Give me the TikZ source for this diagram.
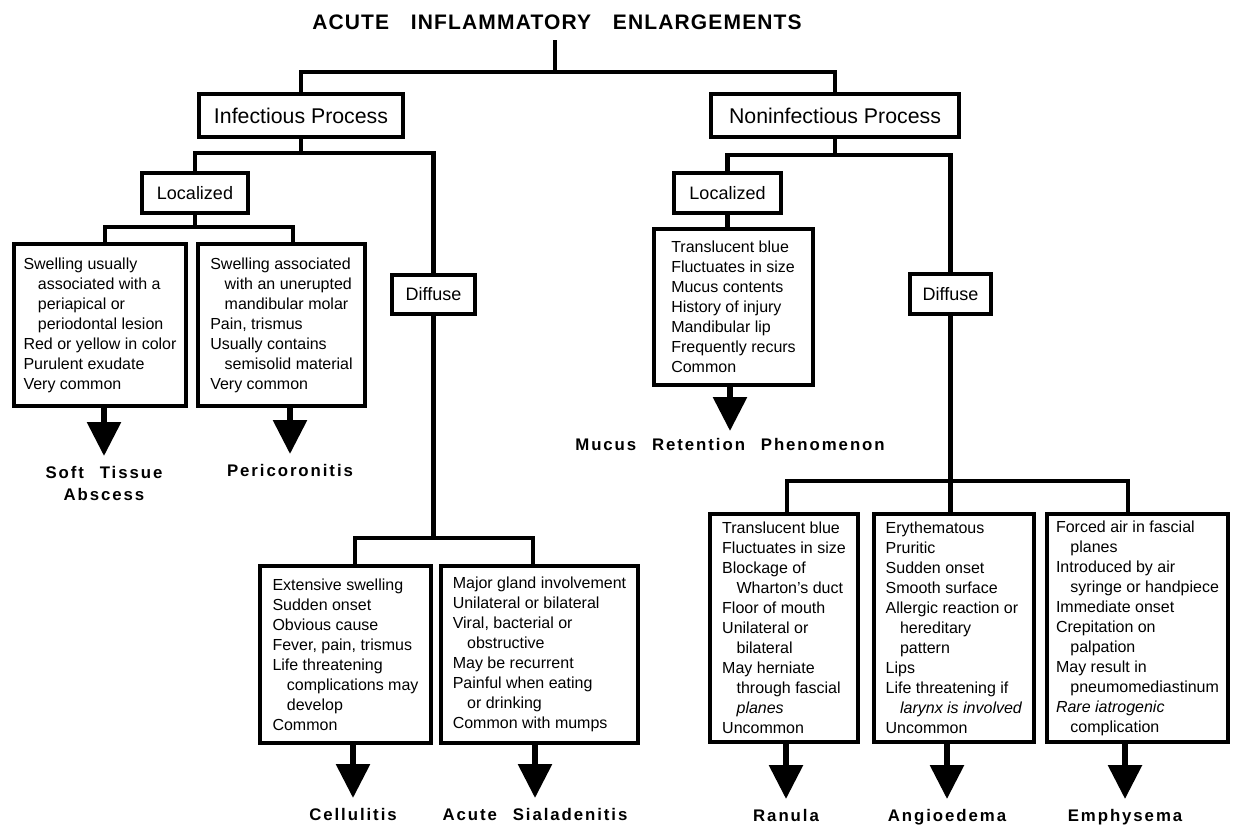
\documentclass[tikz,border=0pt]{standalone}
\usepackage{fontspec}
\setmainfont{Liberation Sans}
\newfontfamily\headfont[LetterSpace=5.5]{Liberation Sans}
\newfontfamily\leaffont[LetterSpace=11.5]{Liberation Sans}
\usetikzlibrary{arrows.meta}
\newcommand\ind{\hspace*{0.9em}}
\newcommand\wgap{\hspace{0.7em} }
\newcommand\wg{\hspace{0.55em} }
\tikzset{
  conn/.style={line width=4.5pt},
  infobox/.style={draw, line width=4pt, align=left, inner sep=0pt, anchor=north,
    font=\fontsize{16}{20}\selectfont},
  procbox/.style={draw, line width=4pt, inner sep=0pt, anchor=north, minimum height=43pt,
    font=\fontsize{21.3}{25}\selectfont},
  subbox/.style={draw, line width=4pt, inner sep=0pt, anchor=north, minimum height=40pt,
    font=\fontsize{18}{22}\selectfont},
  leaf/.style={inner sep=0pt, anchor=north, align=center,
    font=\leaffont\bfseries\fontsize{16.8}{22}\selectfont},
  result/.style={line width=6pt, -{Triangle[width=33pt,length=34pt]}, shorten >=10pt},
}
\begin{document}
\begin{tikzpicture}[x=1pt,y=-1pt]
    \useasboundingbox (0,0) rectangle (1233,828);
    % heading and the two processes
    \node (title) [inner sep=0pt, font=\headfont\bfseries\fontsize{21}{25}\selectfont] at (557,22.5)
      {ACUTE\wgap INFLAMMATORY\wgap ENLARGEMENTS};
    \node[procbox, minimum width=204pt] (inf) at (301,92) {Infectious Process};
    \node[procbox, minimum width=248pt] (noninf) at (835,92) {Noninfectious Process};
    \coordinate (topbus) at (555,72);
    \draw[conn, shorten <=10pt] (title.south -| topbus) -- (topbus);
    \draw[conn] (inf.north) |- (topbus) -| (noninf.north);
    % infectious side
    \node[subbox, minimum width=106pt] (locL) at (195,171) {Localized};
    \node[subbox, minimum width=83pt, minimum height=39pt] (difL) at (433.5,273) {Diffuse};
    \coordinate (infbus) at (301,153);
    \draw[conn] (inf.south) -- (infbus);
    \draw[conn] (locL.north) |- (infbus) -| (difL.north);
    \node[infobox, minimum width=172pt, minimum height=162pt] (soft) at (100,242)
      {Swelling usually\\ \ind associated with a\\ \ind periapical or\\ \ind periodontal lesion\\
       Red or yellow in color\\ Purulent exudate\\ Very common};
    \node[infobox, minimum width=167pt, minimum height=162pt] (peri) at (281.5,242)
      {Swelling associated\\ \ind with an unerupted\\ \ind mandibular molar\\ Pain, trismus\\
       Usually contains\\ \ind semisolid material\\ Very common};
    \coordinate (locLbus) at (195,227);
    \draw[conn] (locL.south) -- (locLbus);
    \draw[conn] ([xshift=5pt]soft.north) |- (locLbus) -| ([xshift=11.5pt]peri.north);
    \node[infobox, minimum width=171pt, minimum height=177pt] (cell) at (345.5,564)
      {Extensive swelling\\ Sudden onset\\ Obvious cause\\ Fever, pain, trismus\\
       Life threatening\\ \ind complications may\\ \ind develop\\ Common};
    \node[infobox, minimum width=197pt, minimum height=177pt] (sial) at (539.5,564)
      {Major gland involvement\\ Unilateral or bilateral\\ Viral, bacterial or\\ \ind obstructive\\
       May be recurrent\\ Painful when eating\\ \ind or drinking\\ Common with mumps};
    \coordinate (difLbus) at (433.5,538);
    \draw[conn] (difL.south) -- (difLbus);
    \draw[conn] ([xshift=9.5pt]cell.north) |- (difLbus) -| ([xshift=-6.5pt]sial.north);
    % noninfectious side
    \node[subbox, minimum width=107pt] (locR) at (727.5,171) {Localized};
    \node[subbox, minimum width=81pt, minimum height=40pt] (difR) at (950.5,272) {Diffuse};
    \coordinate (noninfbus) at (835,155);
    \draw[conn] (noninf.south) -- (noninfbus);
    \draw[conn] (locR.north) |- (noninfbus) -| (difR.north);
    \node[infobox, minimum width=159pt, minimum height=156pt] (mucus) at (733.5,227)
      {Translucent blue\\ Fluctuates in size\\ Mucus contents\\ History of injury\\
       Mandibular lip\\ Frequently recurs\\ Common};
    \draw[conn] (locR.south) -- (locR.south |- mucus.north);
    \node[infobox, minimum width=148pt, minimum height=228pt] (ranula) at (784,512)
      {Translucent blue\\ Fluctuates in size\\ Blockage of\\ \ind Wharton's duct\\ Floor of mouth\\
       Unilateral or\\ \ind bilateral\\ May herniate\\ \ind through fascial\\ \ind\textit{planes}\\ Uncommon};
    \node[infobox, minimum width=160pt, minimum height=228pt] (angio) at (954,512)
      {Erythematous\\ Pruritic\\ Sudden onset\\ Smooth surface\\ Allergic reaction or\\
       \ind hereditary\\ \ind pattern\\ Lips\\ Life threatening if\\ \ind\textit{larynx is involved}\\ Uncommon};
    \node[infobox, minimum width=181pt, minimum height=228pt] (emph) at (1137.5,512)
      {Forced air in fascial\\ \ind planes\\ Introduced by air\\ \ind syringe or handpiece\\
       Immediate onset\\ Crepitation on\\ \ind palpation\\ May result in\\ \ind pneumomediastinum\\
       \textit{Rare iatrogenic}\\ \ind complication};
    \coordinate (difRbus) at (950.5,481);
    \draw[conn] (difR.south) -- (difRbus);
    \draw[conn] ([xshift=3pt]ranula.north) |- (difRbus) -| ([xshift=-9.5pt]emph.north);
    \draw[conn] (difRbus) -- ([xshift=-3.5pt]angio.north);
    % outcomes
    \node[leaf] (softlab) at (104,466) {Soft\wg Tissue\\Abscess};
    \node[leaf] (perilab) at (290,464) {Pericoronitis};
    \node[leaf] (mucuslab) at (730,438) {Mucus\wg Retention\wg Phenomenon};
    \node[leaf] (celllab) at (353,808) {Cellulitis};
    \node[leaf] (siallab) at (535,808) {Acute\wg Sialadenitis};
    \node[leaf] (ranulalab) at (786,809) {Ranula};
    \node[leaf] (angiolab) at (947,809) {Angioedema};
    \node[leaf] (emphlab) at (1125,809) {Emphysema};
    \draw[result] (soft.south -| softlab.north) -- (softlab.north);
    \draw[result] (peri.south -| perilab.north) -- (perilab.north);
    \draw[result, shorten >=7pt] (mucus.south -| mucuslab.north) -- (mucuslab.north);
    \draw[result] (cell.south -| celllab.north) -- (celllab.north);
    \draw[result] (sial.south -| siallab.north) -- (siallab.north);
    \draw[result] (ranula.south -| ranulalab.north) -- (ranulalab.north);
    \draw[result] (angio.south -| angiolab.north) -- (angiolab.north);
    \draw[result] (emph.south -| emphlab.north) -- (emphlab.north);
\end{tikzpicture}
\end{document}
